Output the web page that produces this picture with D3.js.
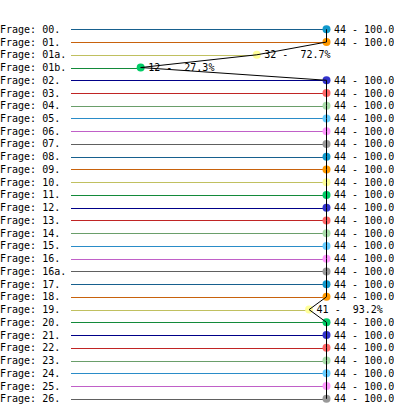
<!DOCTYPE html>
<html><head><meta charset="utf-8">
<script src="https://cdn.jsdelivr.net/npm/d3@7"></script>
<style>
html,body{margin:0;padding:0;background:#fff;overflow:hidden}
text{font-family:"DejaVu Sans Mono","Liberation Mono",monospace;font-size:10px;fill:#000}
</style></head>
<body>
<script>
const categories = ["00","01","01a","01b","02","03","04","05","06","07","08","09","10","11","12","13","14","15","16","16a","17","18","19","20","21","22","23","24","25","26"];
const counts = [44,44,32,12,44,44,44,44,44,44,44,44,44,44,44,44,44,44,44,44,44,44,41,44,44,44,44,44,44,44];
const total = 44;
const lineColors = ["#17608e","#c8620c","#c0c060","#138a3a","#000088","#c02424","#6a9e6a","#2a8cc8","#c060c8","#606060"];
const pointColors = ["#1199cc","#ff9900","#ffff99","#00cc66","#3333cc","#ff6666","#aaddaa","#66ccff","#ff99ff","#999999"];

const W = 394, H = 411;
const svg = d3.select("body").append("svg").attr("width", W).attr("height", H);

const y = d3.scalePoint().domain(categories).range([29.3, 398.8]);
const x = d3.scaleLinear().domain([0, total]).range([71, 326.5]);

const rows = categories.map((c, i) => ({c, i, v: counts[i]}));

// labels
svg.selectAll("text.lab").data(rows).join("text").attr("class","lab")
  .attr("x", 0).attr("y", d => y(d.c)).attr("dy","0.35em")
  .text(d => "Frage: " + d.c + ".");

// colored lines
svg.selectAll("line.row").data(rows).join("line").attr("class","row")
  .attr("x1", x(0)).attr("x2", d => x(d.v))
  .attr("y1", d => Math.round(y(d.c)) + 0.5).attr("y2", d => Math.round(y(d.c)) + 0.5)
  .attr("stroke", d => lineColors[d.i % 10]).attr("stroke-width", 1.2);

// points
svg.selectAll("circle").data(rows).join("circle")
  .attr("cx", d => x(d.v)).attr("cy", d => y(d.c)).attr("r", 4)
  .attr("fill", d => pointColors[d.i % 10]);

// connecting polyline
svg.append("path").datum(rows)
  .attr("d", d3.line().x(d => x(d.v)).y(d => y(d.c)))
  .attr("fill","none").attr("stroke","#000").attr("stroke-width",1);

// value labels
svg.selectAll("text.val").data(rows).join("text").attr("class","val")
  .attr("x", d => x(d.v) + 7.5).attr("y", d => y(d.c)).attr("dy","0.35em")
  .attr("xml:space","preserve").style("white-space","pre")
  .text(d => d.v + " - " + (d.v / total * 100).toFixed(1).padStart(5, " ") + "%");
</script>
</body></html>
